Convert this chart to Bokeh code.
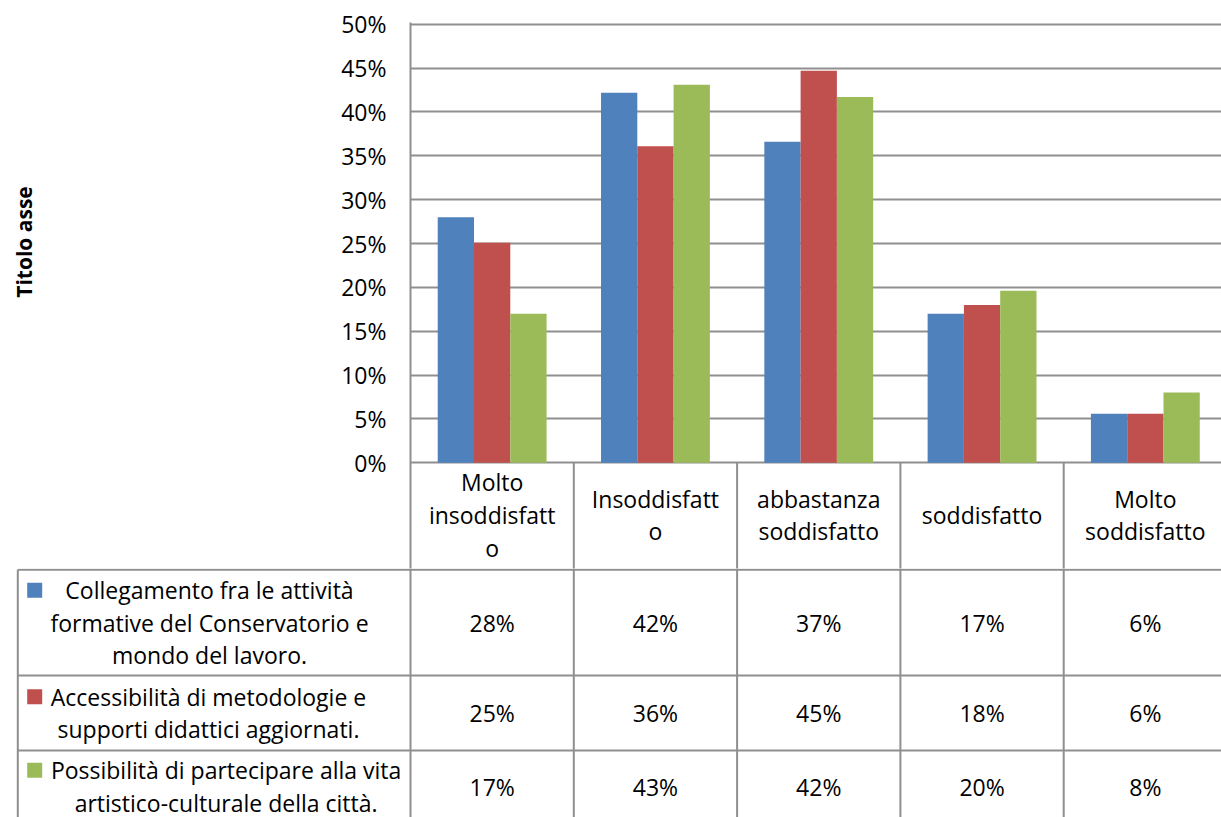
import math
from bokeh.plotting import figure
from bokeh.layouts import column, row
from bokeh.models import Range1d, FixedTicker, PrintfTickFormatter, ColumnDataSource
from bokeh.transform import dodge
from bokeh.core.properties import value
from bokeh.embed import file_html
from bokeh.resources import INLINE

# ---------------- data ----------------
categories = ["Molto\ninsoddisfatt\no", "Insoddisfatt\no", "abbastanza\nsoddisfatto",
              "soddisfatto", "Molto\nsoddisfatto"]
series_labels = [
    "Collegamento fra le attività\nformative del Conservatorio e\nmondo del lavoro.",
    "Accessibilità di metodologie e\nsupporti didattici aggiornati.",
    "Possibilità di partecipare alla vita\nartistico-culturale della città.",
]
collegamento = [28.0, 42.2, 36.6, 17.0, 5.6]
accessibilita = [25.1, 36.1, 44.7, 18.0, 5.6]
possibilita = [17.0, 43.1, 41.7, 19.6, 8.0]
series_values = [collegamento, accessibilita, possibilita]
colors = ["#4F81BD", "#C0504D", "#9BBB59"]
y_ticks = [0, 5, 10, 15, 20, 25, 30, 35, 40, 45, 50]
axis_title = "Titolo asse"

# ---------------- layout constants (pixels) ----------------
W = 1221
TITLE_W = 44             # strip holding the vertical axis title
FRAME_L = 410            # left edge of plot area
FRAME_T = 22             # top of plot area
CW = 163.3               # width of one category
ZERO_PX = 462.25         # pixel row of 0 %
PXPCT = 442 / 50.4       # pixels per percent
HEADER_B = 568           # bottom of header row (chart canvas ends here)
CHART_H = HEADER_B
TABLE_H = 817 - HEADER_B
FONT = "Open Sans"
FS = "23px"
LH_FACTOR = 1.02
LINE_H = 32.5
GRID = "#8F8F8F"
BAR_W = 2 / 9


def px_to_pct(y):
    return (ZERO_PX - y) / PXPCT


y_end = px_to_pct(FRAME_T)
y_start = px_to_pct(HEADER_B)
ncat = len(categories)
x_end = (W - FRAME_L) / CW

# ---------------- axis title strip ----------------
tt = figure(width=TITLE_W, height=CHART_H, x_range=Range1d(0, TITLE_W),
            y_range=Range1d(CHART_H, 0), output_backend="svg", toolbar_location=None,
            x_axis_location=None, y_axis_location=None, min_border_left=0,
            min_border_right=0, min_border_top=0, min_border_bottom=0, frame_align=False)
tt.outline_line_color = None
tt.xgrid.grid_line_color = None
tt.ygrid.grid_line_color = None
tt.text(x=[23.5], y=[241.5], text=[axis_title], angle=math.pi / 2, text_align="center",
        text_baseline="middle", text_font=value(FONT), text_font_style="bold",
        text_font_size="21px", text_color="#000000")

# ---------------- chart (with header row of the table) ----------------
p = figure(width=W - TITLE_W, height=CHART_H, x_range=Range1d(0, x_end),
           y_range=Range1d(y_start, y_end), output_backend="svg", toolbar_location=None,
           x_axis_location=None, min_border_left=FRAME_L - TITLE_W, min_border_right=0,
           min_border_top=FRAME_T, min_border_bottom=0, frame_align=False)
p.outline_line_color = None
p.xgrid.grid_line_color = None
p.ygrid.grid_line_color = GRID
p.ygrid.grid_line_width = 2
p.ygrid.ticker = FixedTicker(ticks=y_ticks)
ax = p.yaxis[0]
ax.ticker = FixedTicker(ticks=y_ticks)
ax.formatter = PrintfTickFormatter(format="%d%%")
ax.major_tick_line_color = None
ax.minor_tick_line_color = None
ax.major_tick_out = 0
ax.major_tick_in = 0
ax.major_label_standoff = 24
ax.axis_line_color = GRID
ax.axis_line_width = 2
ax.major_label_text_font = FONT
ax.major_label_text_font_size = FS
ax.major_label_text_color = "#000000"

xs = [i + 0.5 for i in range(ncat)]
src = ColumnDataSource(dict(x=xs, s0=collegamento, s1=accessibilita, s2=possibilita))
for k in range(3):
    p.vbar(x=dodge("x", (k - 1) * BAR_W, range=p.x_range), top="s%d" % k, bottom=0,
           width=BAR_W, source=src, fill_color=colors[k], line_color=None)

# header row: vertical separators and category names
hx = list(range(1, ncat + 1))
p.segment(x0=hx, y0=[0] * len(hx), x1=hx, y1=[y_start] * len(hx),
          line_color=GRID, line_width=2)
p.text(x=xs, y=[px_to_pct(514.5)] * ncat, text=categories, text_align="center",
       text_baseline="middle", text_font=value(FONT), text_font_size=FS,
       text_line_height=LH_FACTOR, text_color="#000000")

# ---------------- data table body ----------------
t = figure(width=W, height=TABLE_H, x_range=Range1d(-FRAME_L / CW, x_end),
           y_range=Range1d(TABLE_H, 0), output_backend="svg", toolbar_location=None,
           x_axis_location=None, y_axis_location=None, min_border_left=0,
           min_border_right=0, min_border_top=0, min_border_bottom=0, frame_align=False)
t.outline_line_color = None
t.xgrid.grid_line_color = None
t.ygrid.grid_line_color = None

row_bounds = [1.3, 107, 182, 254]      # pixels below header bottom
left_x = (17.3 - FRAME_L) / CW

vx = list(range(ncat + 1))
t.segment(x0=vx, y0=[-2] * len(vx), x1=vx, y1=[TABLE_H + 5] * len(vx),
          line_color=GRID, line_width=2)
t.segment(x0=[left_x], y0=[row_bounds[0]], x1=[left_x], y1=[TABLE_H + 5],
          line_color=GRID, line_width=2)
hy = row_bounds[:-1]
t.segment(x0=[left_x] * len(hy), y0=hy, x1=[ncat] * len(hy), y1=hy,
          line_color=GRID, line_width=2)

row_c = [(row_bounds[i] + row_bounds[i + 1]) / 2 for i in range(3)]
vx_all, vy_all, vt_all = [], [], []
for r, vals in enumerate(series_values):
    for i, v in enumerate(vals):
        vx_all.append(i + 0.5)
        vy_all.append(row_c[r])
        vt_all.append("%d%%" % round(v))
t.text(x=vx_all, y=vy_all, text=vt_all, text_align="center", text_baseline="middle",
       text_font=value(FONT), text_font_size=FS, text_color="#000000")

leg_cx = [209, 208, 225.6]
lx = [(c - FRAME_L) / CW for c in leg_cx]
t.text(x=lx, y=row_c, text=series_labels, text_align="center", text_baseline="middle",
       text_font=value(FONT), text_font_size=FS, text_line_height=LH_FACTOR,
       text_color="#000000")
nlines = [s.count("\n") + 1 for s in series_labels]
key_y = [row_c[r] - (nlines[r] - 1) / 2 * LINE_H for r in range(3)]
key_x = [(34.2 - FRAME_L) / CW] * 3
t.rect(x=key_x, y=key_y, width=15, height=15, width_units="screen",
       height_units="screen", fill_color=colors, line_color=None)

layout = column(row(tt, p, spacing=0), t, spacing=0)
open("out.html", "w").write(file_html(layout, INLINE))
